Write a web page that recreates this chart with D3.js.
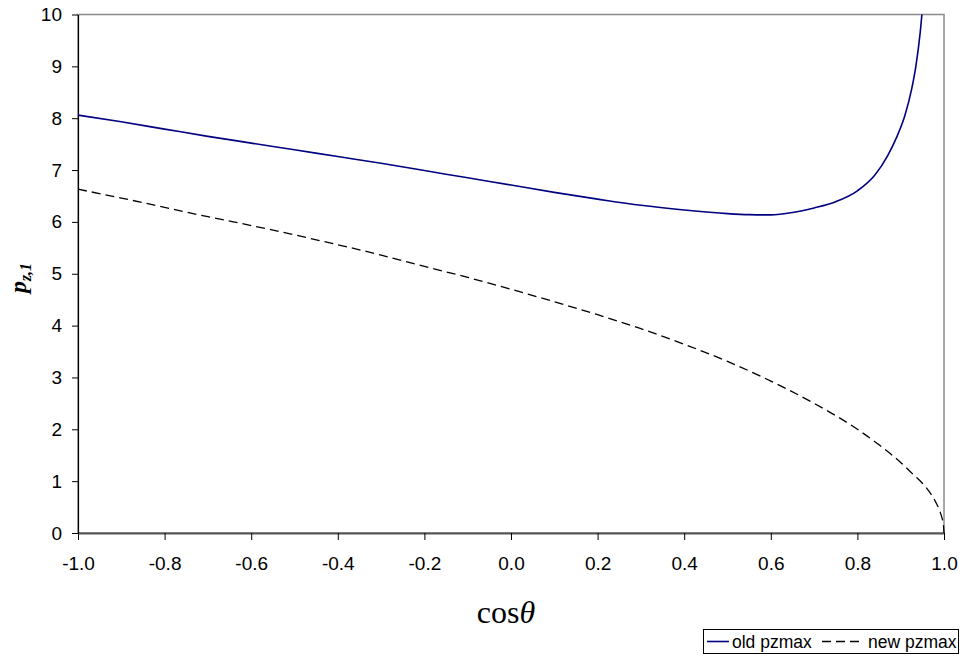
<!DOCTYPE html>
<html>
<head>
<meta charset="utf-8">
<script src="https://cdn.jsdelivr.net/npm/d3@7"></script>
<style>
  body { margin: 0; background: #fff; }
  svg { display: block; }
</style>
</head>
<body>
<svg id="chart" width="963" height="658"></svg>
<script>
// values
let cosTheta_old = [-1, -0.9, -0.8, -0.7, -0.6, -0.5, -0.4, -0.3, -0.2, -0.1, 0, 0.1, 0.2, 0.3, 0.4, 0.5, 0.55, 0.6, 0.65, 0.7, 0.75, 0.8, 0.84, 0.87, 0.89, 0.91, 0.925, 0.935, 0.945, 0.949]
let pz_old = [8.06, 7.93, 7.79, 7.65, 7.52, 7.39, 7.26, 7.13, 6.99, 6.85, 6.71, 6.57, 6.44, 6.32, 6.23, 6.16, 6.14, 6.135, 6.18, 6.27, 6.39, 6.60, 6.90, 7.28, 7.62, 8.06, 8.55, 9.0, 9.65, 10.0]

let cosTheta_new = [-1, -0.9, -0.8, -0.7, -0.6, -0.5, -0.4, -0.3, -0.2, -0.1, 0, 0.1, 0.2, 0.3, 0.4, 0.5, 0.6, 0.7, 0.8, 0.85, 0.9, 0.93, 0.95, 0.97, 0.98, 0.99, 0.995, 0.999, 1.0]
let pz_new = [6.63, 6.46, 6.28, 6.10, 5.93, 5.75, 5.56, 5.36, 5.14, 4.93, 4.70, 4.46, 4.21, 3.94, 3.64, 3.31, 2.93, 2.50, 2.00, 1.70, 1.36, 1.12, 0.96, 0.75, 0.61, 0.43, 0.30, 0.13, 0]

let xTicks = [-1.0, -0.8, -0.6, -0.4, -0.2, 0.0, 0.2, 0.4, 0.6, 0.8, 1.0]
let yTicks = [0, 1, 2, 3, 4, 5, 6, 7, 8, 9, 10]
let seriesNames = ["old pzmax", "new pzmax"]

let svg = d3.select("#chart")
let pLeft = 78, pRight = 944, pTop = 14.5, pBottom = 533

let x = d3.scaleLinear().domain([-1, 1]).range([pLeft, pRight])
let y = d3.scaleLinear().domain([0, 10]).range([pBottom, pTop])

// plot area border
svg.append("rect")
  .attr("x", pLeft).attr("y", pTop)
  .attr("width", pRight - pLeft).attr("height", pBottom - pTop)
  .attr("fill", "none")
  .attr("stroke", "#8c8c8c")
  .attr("stroke-width", 1.5)

let lab = "Liberation Sans, Arial, sans-serif"

// x axis
let xAxis = svg.append("g")
  .attr("transform", "translate(0," + pBottom + ")")
  .call(d3.axisBottom(x).tickValues(xTicks).tickSize(7).tickSizeOuter(0).tickFormat(d3.format(".1f")))
xAxis.select(".domain").attr("stroke", "#555").attr("stroke-width", 2)
xAxis.selectAll(".tick line").attr("stroke", "#000")
xAxis.selectAll("text")
  .attr("font-family", lab).attr("font-size", 19).attr("fill", "#000")
  .attr("y", 24).attr("dy", "0.71em")
  .text(function(d){ return d3.format(".1f")(d).replace("−", "-") })

// y axis
let yAxis = svg.append("g")
  .attr("transform", "translate(" + pLeft + ",0)")
  .call(d3.axisLeft(y).tickValues(yTicks).tickSize(6).tickSizeOuter(0))
yAxis.select(".domain").attr("stroke", "#000").attr("stroke-width", 1.2)
yAxis.selectAll(".tick line").attr("stroke", "#000")
yAxis.selectAll("text")
  .attr("font-family", lab).attr("font-size", 19).attr("fill", "#000")
  .attr("x", -16)

let line = d3.line()
  .x(function(d){ return x(d[0]) })
  .y(function(d){ return y(d[1]) })
  .curve(d3.curveMonotoneX)

svg.append("path")
  .datum(d3.zip(cosTheta_new, pz_new))
  .attr("d", line)
  .attr("fill", "none")
  .attr("stroke", "#000")
  .attr("stroke-width", 1.3)
  .attr("stroke-dasharray", "9,5")

svg.append("path")
  .datum(d3.zip(cosTheta_old, pz_old))
  .attr("d", line)
  .attr("fill", "none")
  .attr("stroke", "#000080")
  .attr("stroke-width", 1.6)

// axis titles
let xt = svg.append("text")
  .attr("x", 506).attr("y", 623)
  .attr("text-anchor", "middle")
  .attr("font-family", "Liberation Serif, Times New Roman, serif")
  .attr("font-size", 32)
xt.append("tspan").text("cos")
xt.append("tspan").attr("font-style", "italic").text("θ")

let yt = svg.append("text")
  .attr("transform", "translate(26,278) rotate(-90)")
  .attr("text-anchor", "middle")
  .attr("font-family", "Liberation Serif, Times New Roman, serif")
  .attr("font-weight", "bold")
  .attr("font-style", "italic")
  .attr("font-size", 24)
yt.append("tspan").text("p")
yt.append("tspan").attr("font-size", 16).attr("dy", 5).text("z,1")

// legend
let lg = svg.append("g")
lg.append("rect")
  .attr("x", 703.5).attr("y", 629.5)
  .attr("width", 255).attr("height", 24)
  .attr("fill", "#fff").attr("stroke", "#000").attr("stroke-width", 1)

let legendItems = [
  { name: seriesNames[0], x1: 707, x2: 729, tx: 732, color: "#000080", dash: null, w: 1.6 },
  { name: seriesNames[1], x1: 822, x2: 864, tx: 868, color: "#000", dash: "9,5", w: 1.3 }
]
legendItems.forEach(function(d){
  lg.append("line")
    .attr("x1", d.x1).attr("x2", d.x2)
    .attr("y1", 641.5).attr("y2", 641.5)
    .attr("stroke", d.color).attr("stroke-width", d.w)
    .attr("stroke-dasharray", d.dash)
  lg.append("text")
    .attr("x", d.tx).attr("y", 647.5)
    .attr("font-family", lab).attr("font-size", 17.5)
    .text(d.name)
})
</script>
</body>
</html>
